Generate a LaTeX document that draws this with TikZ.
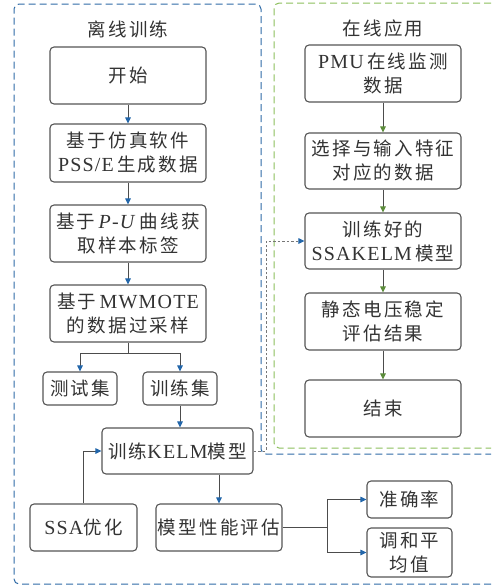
\documentclass[tikz,border=0pt]{standalone}
\usepackage{fontspec}
\setmainfont{Liberation Serif}[Scale=1.08, LetterSpace=6]
\newfontfamily\cjk{Noto Sans CJK SC}[LetterSpace=12]
\usetikzlibrary{arrows.meta}
\definecolor{boxgray}{HTML}{555555}
\definecolor{txtgray}{HTML}{333333}
\definecolor{tipblue}{HTML}{2266AA}
\definecolor{tipgreen}{HTML}{5B8C3A}
\definecolor{dashblue}{HTML}{2E6AA6}
\definecolor{dashgreen}{HTML}{8CBF5C}
\newcommand{\zh}[1]{{\cjk #1}}
\tikzset{
  box/.style={draw=boxgray, line width=1.1pt, rounded corners=4pt, align=center,
    inner sep=0pt, text=txtgray, font=\fontsize{18.5}{24}\selectfont},
  link/.style={draw=boxgray!90!black, line width=1pt},
  barr/.style={link, -{Triangle[length=6pt,width=5.5pt,color=tipblue]}},
  garr/.style={link, -{Triangle[length=6pt,width=5.5pt,color=tipgreen]}},
  title/.style={text=txtgray, font=\fontsize{18.5}{24}\selectfont},
}
\begin{document}
\begin{tikzpicture}[x=1pt,y=-1pt]
\useasboundingbox (0,0) rectangle (491,587);
% regions
\draw[dashblue, line width=1pt, dash pattern=on 7pt off 4pt, rounded corners=5pt]
  (491,584) -- (14,584) -- (14,4) -- (261,4) -- (261,454) -- (491,454);
\draw[dashgreen, line width=1pt, dash pattern=on 7pt off 4pt, rounded corners=5pt]
  (491,3) -- (274,3) -- (274,448) -- (491,448);
\node[title] (t1) at (128,29) {\zh{离线训练}};
\node[title] (t2) at (383,28) {\zh{在线应用}};
% offline nodes
\node[box, minimum width=156pt, minimum height=57pt] (start) at (128,75.5) {\zh{开始}};
\node[box, minimum width=156pt, minimum height=58pt] (sim) at (128,153) {\zh{基于仿真软件}\\PSS/E\,\zh{生成数据}};
\node[box, minimum width=156pt, minimum height=57pt] (pu) at (128,233.5) {\zh{基于}\,\textit{P-U}\,\zh{曲线获}\\\zh{取样本标签}};
\node[box, minimum width=156pt, minimum height=57pt] (mw) at (128,313.5) {\zh{基于}\,MWMOTE\\\zh{的数据过采样}};
\node[box, minimum width=74pt, minimum height=33pt] (test) at (80,388.5) {\zh{测试集}};
\node[box, minimum width=74pt, minimum height=33pt] (train) at (180,388.5) {\zh{训练集}};
\node[box, minimum width=151pt, minimum height=46pt] (kelm) at (177.5,451) {\zh{训练}KELM\zh{模型}};
\node[box, minimum width=107pt, minimum height=47pt] (ssa) at (83.5,527.5) {SSA\zh{优化}};
\node[box, minimum width=126pt, minimum height=47pt] (perf) at (219,527.5) {\zh{模型性能评估}};
\node[box, minimum width=85pt, minimum height=37pt] (acc) at (409.5,499.5) {\zh{准确率}};
\node[box, minimum width=85pt, minimum height=49pt] (f1) at (409.5,552.5) {\zh{调和平}\\\zh{均值}};
% online nodes
\node[box, minimum width=156pt, minimum height=57pt] (pmu) at (383,73.5) {PMU\,\zh{在线监测}\\\zh{数据}};
\node[box, minimum width=156pt, minimum height=56pt] (sel) at (383,161) {\zh{选择与输入特征}\\\zh{对应的数据}};
\node[box, minimum width=156pt, minimum height=56pt] (trained) at (383,241) {\zh{训练好的}\\SSAKELM\,\zh{模型}};
\node[box, minimum width=156pt, minimum height=57pt] (res) at (383,321.5) {\zh{静态电压稳定}\\\zh{评估结果}};
\node[box, minimum width=156pt, minimum height=57pt] (end) at (383,408.5) {\zh{结束}};
% offline links
\draw[barr] (start) -- (sim);
\draw[barr] (sim) -- (pu);
\draw[barr] (pu) -- (mw);
\coordinate (split) at (128,353);
\draw[link] (mw.south) -- (split);
\draw[barr] (split) -| (test.north);
\draw[barr] (split) -| (train.north);
\draw[barr] (train.south) -- (train.south |- kelm.north);
\draw[barr] (ssa.north) |- (kelm.west);
\draw[barr] (kelm.south -| perf.north) -- (perf.north);
\coordinate (fork) at (327,527.5);
\draw[link] (perf.east) -- (fork);
\draw[barr] (fork) |- (acc.west);
\draw[barr] (fork) |- (f1.west);
% online links
\draw[garr] (pmu) -- (sel);
\draw[garr] (sel) -- (trained);
\draw[garr] (trained) -- (res);
\draw[garr] (res) -- (end);
% transfer
\coordinate (bend) at (266,451);
\draw[boxgray!80, line width=1pt, dash pattern=on 2.5pt off 2pt, -{Triangle[length=6pt,width=5.5pt,color=tipblue]}]
  (kelm.east) -- (bend) |- (trained.west);
\end{tikzpicture}
\end{document}
